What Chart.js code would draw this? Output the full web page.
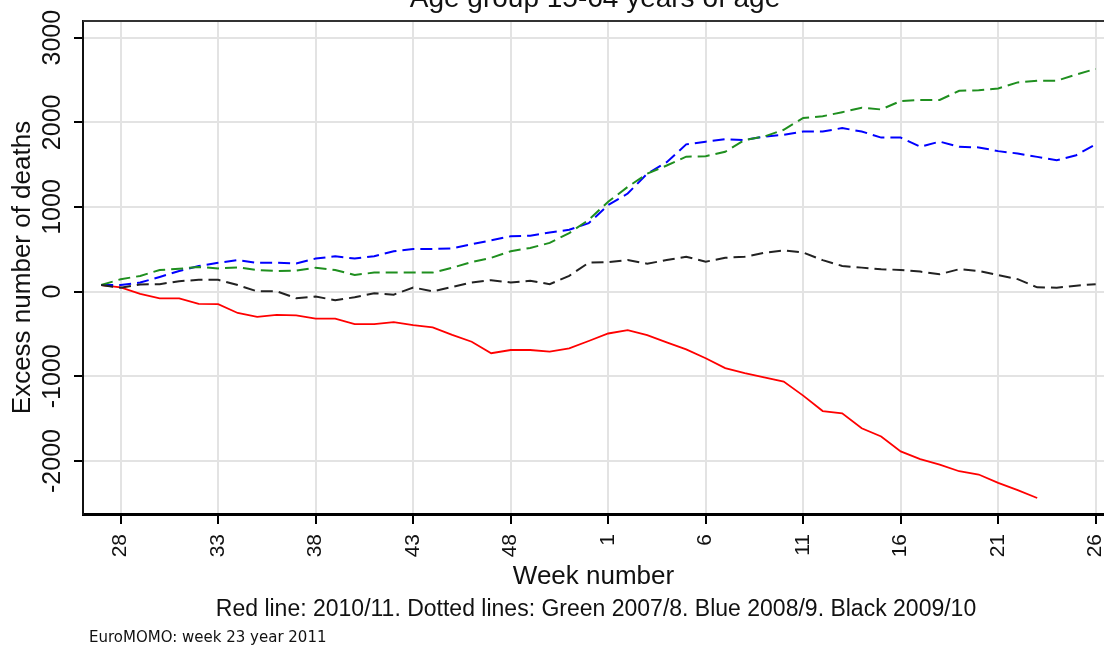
<!DOCTYPE html>
<html>
<head>
<meta charset="utf-8">
<script src="https://cdn.jsdelivr.net/npm/chart.js@4.4.1/dist/chart.umd.min.js"></script>
<style>
  html, body { margin: 0; padding: 0; background: #ffffff; }
  #wrap { width: 1104px; height: 646px; position: relative; }
  canvas { display: block; }
</style>
</head>
<body>
<div id="wrap"><canvas id="c" width="1104" height="646"></canvas></div>
<script>
// Week labels (season runs from week 27 to week 26 of the following year)
const weeks = [27,28,29,30,31,32,33,34,35,36,37,38,39,40,41,42,43,44,45,46,47,48,49,50,51,52,
               1,2,3,4,5,6,7,8,9,10,11,12,13,14,15,16,17,18,19,20,21,22,23,24,25,26];
// Tick labels shown on the x axis
const weekTicks = [28,33,38,43,48,1,6,11,16,21,26];
// Y axis tick values
const yTicks = [-2000,-1000,0,1000,2000,3000];

// Red line: 2010/11 (up to week 23)
const red2010 = [78,50,-27,-78,-78,-143,-147,-252,-298,-275,-279,-318,-318,-384,-384,-360,-395,-422,-510,-591,
                 -727,-689,-689,-708,-669,-583,-494,-455,-513,-599,-681,-786,-902,-961,-1011,-1062,-1228,-1410,-1437,-1613,
                 -1711,-1887,-1977,-2043,-2121,-2160,-2258,-2344,-2437];
// Green dotted: 2007/8
const green2007 = [78,147,186,256,271,291,275,287,256,244,248,283,256,198,225,225,225,225,283,350,
                   400,478,517,576,692,848,1062,1237,1393,1490,1595,1600,1652,1792,1832,1912,2052,2072,2120,2172,
                   2152,2252,2264,2264,2372,2380,2400,2472,2492,2492,2564,2632];
// Blue dotted: 2008/9
const blue2008 = [78,78,108,174,244,302,341,372,341,341,333,391,419,391,419,477,504,504,512,560,
                  607,654,661,700,731,809,1023,1159,1393,1529,1740,1772,1800,1792,1832,1852,1892,1892,1932,1892,
                  1820,1820,1712,1772,1712,1704,1660,1632,1592,1552,1612,1740];
// Black dotted: 2009/10
const black2009 = [78,47,85,89,124,140,140,78,4,4,-78,-58,-101,-66,-19,-35,50,4,55,109,
                   136,109,128,89,187,342,350,373,331,373,412,354,400,412,459,486,463,372,304,284,
                   265,257,237,206,265,245,195,148,51,47,70,89];

const title = 'Age group 15-64 years of age';
const xTitle = 'Week number';
const yTitle = 'Excess number of deaths';
const caption = 'Red line: 2010/11. Dotted lines: Green 2007/8. Blue 2008/9. Black 2009/10';
const footer = 'EuroMOMO: week 23 year 2011';

const toXY = arr => arr.map((v, i) => ({ x: i, y: v }));
const tickIndex = weekTicks.map(w => weeks.indexOf(w, w >= 27 ? 0 : 26));

const textPlugin = {
  id: 'texts',
  afterDraw(chart) {
    const ctx = chart.ctx;
    const ca = chart.chartArea;
    const ys = chart.scales.y;
    ctx.save();
    // top frame line
    ctx.strokeStyle = '#333333';
    ctx.lineWidth = 2;
    ctx.beginPath();
    ctx.moveTo(ca.left, ca.top);
    ctx.lineTo(ca.right, ca.top);
    ctx.stroke();
    // rotated y tick labels
    ctx.fillStyle = '#111111';
    ctx.font = '25px "Liberation Sans", Arial, sans-serif';
    ctx.textAlign = 'center';
    ctx.textBaseline = 'middle';
    ys.ticks.forEach(t => {
      const py = ys.getPixelForValue(t.value);
      ctx.save();
      ctx.translate(53, py);
      ctx.rotate(-Math.PI / 2);
      ctx.fillText(String(t.value), 0, 0);
      ctx.restore();
    });
    // title (partly cut at the top)
    ctx.font = '28px "Liberation Sans", Arial, sans-serif';
    ctx.textBaseline = 'alphabetic';
    ctx.fillText(title, 595, 7);
    // caption
    ctx.font = '23px "Liberation Sans", Arial, sans-serif';
    ctx.fillText(caption, 596, 616);
    // footer
    ctx.font = '15px "DejaVu Sans", sans-serif';
    ctx.textAlign = 'left';
    ctx.fillText(footer, 89, 642);
    ctx.restore();
  }
};

const dashed = [12, 6];
new Chart(document.getElementById('c'), {
  type: 'line',
  data: {
    datasets: [
      { label: 'Black 2009/10', data: toXY(black2009), borderColor: '#222222', borderWidth: 2, borderDash: dashed, pointRadius: 0, tension: 0 },
      { label: 'Green 2007/8', data: toXY(green2007), borderColor: '#1f8f1f', borderWidth: 2, borderDash: dashed, pointRadius: 0, tension: 0 },
      { label: 'Blue 2008/9', data: toXY(blue2008), borderColor: '#0000ff', borderWidth: 2, borderDash: dashed, pointRadius: 0, tension: 0 },
      { label: 'Red 2010/11', data: toXY(red2010), borderColor: '#ff0000', borderWidth: 1.8, pointRadius: 0, tension: 0 }
    ]
  },
  options: {
    responsive: false,
    animation: false,
    devicePixelRatio: 1,
    layout: { padding: { top: 21, right: 0, bottom: 0, left: 0 }, autoPadding: false },
    plugins: { legend: { display: false }, tooltip: { enabled: false } },
    scales: {
      x: {
        type: 'linear',
        min: -0.933,
        max: 51.426,
        afterBuildTicks: s => { s.ticks = tickIndex.map(v => ({ value: v })); },
        afterFit: s => { s.height = 132; s.paddingLeft = 0; s.paddingRight = 0; },
        ticks: {
          callback: v => String(weeks[v]),
          minRotation: 90, maxRotation: 90,
          autoSkip: false,
          padding: 10,
          color: '#111111',
          font: { family: '"Liberation Sans", Arial, sans-serif', size: 21 }
        },
        grid: { color: '#e3e3e3', lineWidth: 2, tickColor: '#000000', tickWidth: 2, tickLength: 10 },
        border: { color: '#000000', width: 3 },
        title: {
          display: true, text: xTitle, color: '#111111',
          font: { family: '"Liberation Sans", Arial, sans-serif', size: 26 },
          padding: { top: 0, bottom: 54 }
        }
      },
      y: {
        min: -2626,
        max: 3197,
        afterBuildTicks: s => { s.ticks = yTicks.map(v => ({ value: v })); },
        afterFit: s => { s.width = 83; },
        ticks: { display: false },
        grid: { color: '#e3e3e3', lineWidth: 2, tickColor: '#000000', tickWidth: 2, tickLength: 9 },
        border: { color: '#111111', width: 2 },
        title: {
          display: true, text: yTitle, color: '#111111',
          font: { family: '"Liberation Sans", Arial, sans-serif', size: 26 },
          padding: { top: 7, bottom: 0 }
        }
      }
    }
  },
  plugins: [textPlugin]
});
</script>
</body>
</html>
